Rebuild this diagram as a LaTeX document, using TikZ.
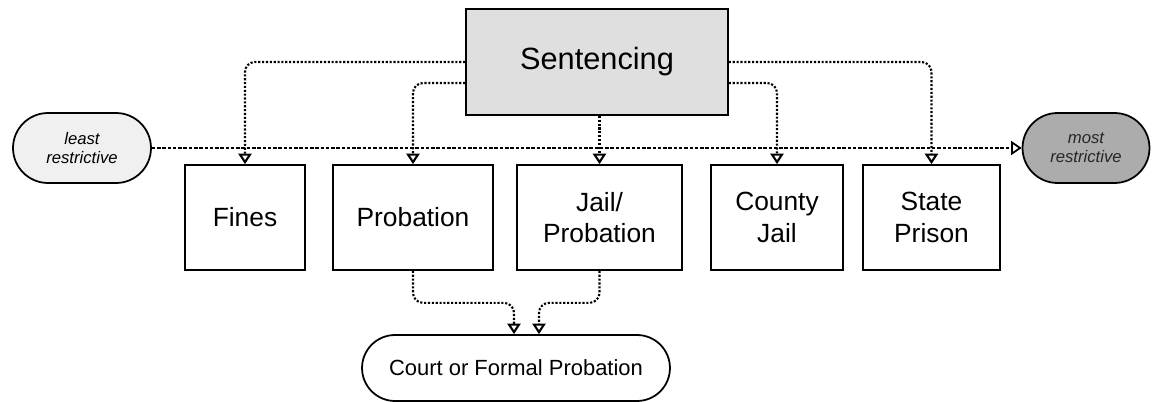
\documentclass[tikz,border=0pt]{standalone}
\usepackage{fontspec}
\setmainfont{Liberation Sans}
\usetikzlibrary{arrows.meta,positioning,calc}

\tikzset{
  box/.style={draw,line width=1pt,minimum height=2.1cm,align=center,font=\fontsize{15}{18}\selectfont},
  pill/.style={draw,line width=1pt,rounded corners=0.7cm,minimum height=1.4cm,align=center},
  link/.style={densely dotted,line width=1.2pt,rounded corners=0.2cm,-{Triangle[open,length=6pt,width=7.5pt]}},
  scaleline/.style={dash pattern=on 2pt off 1pt,line width=1pt,-{Triangle[open,length=6pt,width=8pt]}},
}

\begin{document}
\begin{tikzpicture}[x=0.02cm,y=-0.02cm]
\useasboundingbox (0,0) rectangle (1156,402);
% the decision
\node[box,fill=gray!25,minimum width=5.24cm,minimum height=2.12cm,font=\fontsize{17.5}{20}\selectfont] (sent) at (597,62) {Sentencing};
% ends of the scale
\node[pill,fill=gray!12,minimum width=2.76cm,font=\itshape\fontsize{9.5}{11}\selectfont] (least) at (82,148) {least\\restrictive};
\node[pill,fill=gray!65,text=black!85,minimum width=2.54cm,font=\itshape\fontsize{9.5}{11}\selectfont] (most) at (1086,148) {most\\restrictive};
% outcomes
\node[box,minimum width=2.4cm] (fines) at (245,217.5) {Fines};
\node[box,minimum width=3.2cm] (prob) at (413,217.5) {Probation};
\node[box,minimum width=3.3cm] (jail) at (599.5,217.5) {Jail/\\Probation};
\node[box,minimum width=2.64cm] (county) at (777,217.5) {County\\Jail};
\node[box,minimum width=2.74cm] (prison) at (931.5,217.5) {State\\Prison};
\node[pill,minimum width=6.16cm,minimum height=1.32cm,rounded corners=0.66cm,font=\fontsize{12.5}{15}\selectfont] (court) at (516,368) {Court or Formal Probation};

\draw[scaleline] (least.east) -- (most.west);
\draw[link] (sent.west) -| (fines.north);
\draw[link] ([yshift=-0.42cm]sent.west) -| (prob.north);
\draw[link] (sent.south -| jail.north) -- (jail.north);
\draw[link] ([yshift=-0.42cm]sent.east) -| (county.north);
\draw[link] (sent.east) -| (prison.north);
\draw[link] (prob.south) -- ++(0,32) -| ([xshift=-0.04cm]court.north);
\draw[link] (jail.south) -- ++(0,32) -| ([xshift=0.46cm]court.north);
\end{tikzpicture}
\end{document}
